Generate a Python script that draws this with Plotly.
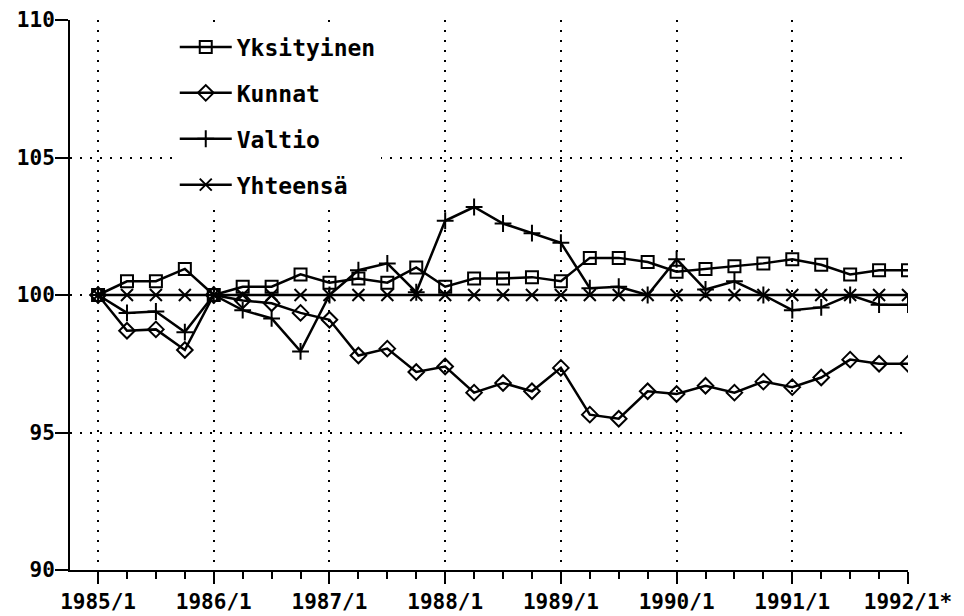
import plotly.graph_objects as go

quarters = list(range(29))
tick_positions = [0, 4, 8, 12, 16, 20, 24, 28]
tick_labels = ["1985/1", "1986/1", "1987/1", "1988/1", "1989/1", "1990/1", "1991/1", "1992/1*"]

yksityinen = [100.0, 100.5, 100.5, 100.95, 100.0, 100.3, 100.3, 100.75, 100.45, 100.6,
              100.45, 101.0, 100.3, 100.6, 100.6, 100.65, 100.5, 101.35, 101.35, 101.2,
              100.85, 100.95, 101.05, 101.15, 101.3, 101.1, 100.75, 100.9, 100.9]
kunnat = [100.0, 98.7, 98.75, 98.0, 100.0, 99.8, 99.7, 99.35, 99.1, 97.8,
          98.05, 97.2, 97.4, 96.45, 96.8, 96.5, 97.35, 95.65, 95.5, 96.5,
          96.4, 96.7, 96.45, 96.85, 96.65, 97.0, 97.65, 97.5, 97.5]
valtio = [100.0, 99.35, 99.4, 98.65, 100.0, 99.45, 99.15, 97.95, 100.0, 100.9,
          101.15, 100.1, 102.7, 103.2, 102.6, 102.25, 101.9, 100.25, 100.3, 100.0,
          101.3, 100.2, 100.5, 100.0, 99.45, 99.55, 100.0, 99.65, 99.65]
yhteensa = [100.0] * 29

series = [
    ("Yksityinen", yksityinen, "square-open"),
    ("Kunnat", kunnat, "diamond-open"),
    ("Valtio", valtio, "cross-thin-open"),
    ("Yhteensä", yhteensa, "x-thin-open"),
]

FONT = "DejaVu Sans Mono"

fig = go.Figure()
for i, (name, vals, sym) in enumerate(series):
    fig.add_trace(go.Scatter(
        x=quarters, y=vals, name=name, mode="lines+markers",
        line=dict(color="black", width=2.5),
        marker=dict(symbol=sym, size=12, color="black",
                    line=dict(color="black", width=2)),
        legendgroup=f"g{i}",
    ))

# the page adds an 8px body margin, so the margins are shifted accordingly
fig.update_layout(
    width=964, height=616,
    margin=dict(l=62, r=64, t=12, b=54),
    paper_bgcolor="white", plot_bgcolor="white",
    showlegend=True,
    legend=dict(
        x=0.125, y=0.99, xanchor="left", yanchor="top",
        bgcolor="white", borderwidth=0,
        font=dict(family=FONT, size=23, color="black", weight="bold"),
        tracegroupgap=13, itemwidth=52,
    ),
    font=dict(family=FONT, color="black"),
)

fig.update_xaxes(
    range=[-0.97, 28], tickmode="array", tickvals=tick_positions, ticktext=tick_labels,
    automargin=False,
    ticks="outside", ticklen=12, tickwidth=2, tickcolor="black",
    ticklabelstandoff=0,
    minor=dict(dtick=1, tick0=0, ticks="outside", ticklen=7, tickwidth=2, tickcolor="black", showgrid=False),
    showline=True, linecolor="black", linewidth=2,
    showgrid=True, gridcolor="black", gridwidth=2, griddash="2px,8px",
    tickfont=dict(family=FONT, size=21, color="black", weight="bold"),
    zeroline=False,
)
fig.update_yaxes(
    range=[90, 110], tickmode="array", tickvals=[90, 95, 100, 105, 110],
    ticktext=["90", "95", "100", "105", "110"],
    automargin=False,
    ticks="outside", ticklen=13, tickwidth=2, tickcolor="black",
    ticklabelstandoff=-4,
    showline=True, linecolor="black", linewidth=2,
    showgrid=True, gridcolor="black", gridwidth=2, griddash="2px,8px",
    tickfont=dict(family=FONT, size=21, color="black", weight="bold"),
    zeroline=False,
)

fig.write_html("out.html")
